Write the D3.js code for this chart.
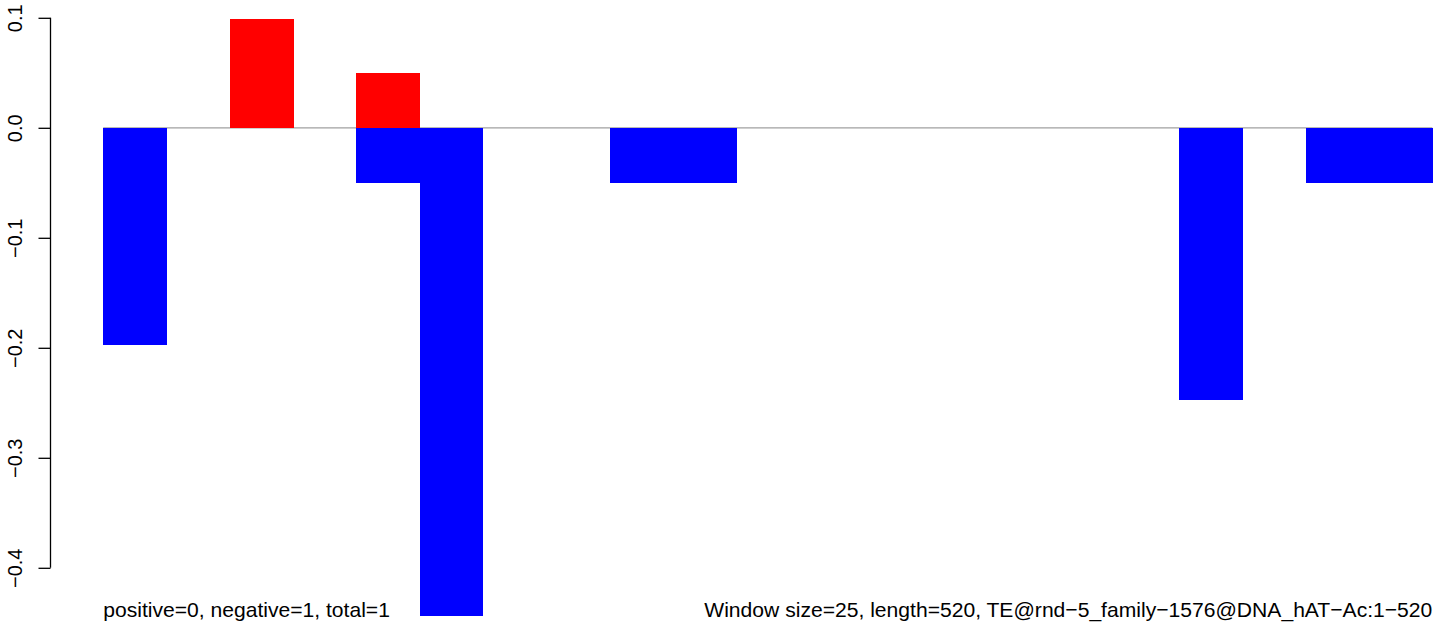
<!DOCTYPE html>
<html>
<head>
<meta charset="utf-8">
<script src="https://cdn.jsdelivr.net/npm/d3@7"></script>
<style>
  html, body { margin: 0; padding: 0; background: #fff; }
  svg { display: block; }
  text { font-family: "Liberation Sans", Arial, Helvetica, sans-serif; fill: #000; }
</style>
</head>
<body>
<svg id="chart" width="1449" height="634"></svg>
<script>
// Window index (21 windows of 25 bp over 520 bp)
const windows = d3.range(21);
// Positive (red) values per window, 0 = none
const positiveValues = [0, 0, 0.099, 0, 0.05, 0, 0, 0, 0, 0, 0, 0, 0, 0, 0, 0, 0, 0, 0, 0, 0];
// Negative (blue) values per window, 0 = none
const negativeValues = [-0.197, 0, 0, 0, -0.05, -0.444, 0, 0, -0.05, -0.05, 0, 0, 0, 0, 0, 0, 0, -0.247, 0, -0.05, -0.05];
const yTicks = [0.1, 0.0, -0.1, -0.2, -0.3, -0.4];
const leftNote = "positive=0, negative=1, total=1";
const rightNote = "Window size=25, length=520, TE@rnd\u22125_family\u22121576@DNA_hAT\u2212Ac:1\u2212520";

const svg = d3.select("#chart");
const plotLeft = 103.2, plotRight = 1432.3;
const x = d3.scaleBand().domain(windows).range([plotLeft, plotRight]).paddingInner(0).paddingOuter(0);
const y = d3.scaleLinear().domain([0, 0.1]).range([127.8, 17.8]);

const axisFont = 20;
const noteFont = 21.1;

// baseline at zero
svg.append("line")
  .attr("x1", plotLeft).attr("x2", plotRight)
  .attr("y1", y(0)).attr("y2", y(0))
  .attr("stroke", "#a0a0a0").attr("stroke-width", 1.3);

// positive bars
svg.append("g").attr("shape-rendering", "crispEdges").selectAll("rect")
  .data(windows.filter(i => positiveValues[i] !== 0))
  .join("rect")
  .attr("x", i => x(i))
  .attr("width", x.bandwidth() + 0.5)
  .attr("y", i => y(positiveValues[i]))
  .attr("height", i => y(0) - y(positiveValues[i]))
  .attr("fill", "#ff0000");

// negative bars
svg.append("g").attr("shape-rendering", "crispEdges").selectAll("rect")
  .data(windows.filter(i => negativeValues[i] !== 0))
  .join("rect")
  .attr("x", i => x(i))
  .attr("width", x.bandwidth() + 0.5)
  .attr("y", y(0))
  .attr("height", i => y(negativeValues[i]) - y(0))
  .attr("fill", "#0000ff");

// y axis
const fmt = v => (v < 0 ? "\u2212" : "") + Math.abs(v).toFixed(1);
const axis = d3.axisLeft(y).tickValues(yTicks).tickFormat(fmt).tickSize(12).tickSizeOuter(0);
const gAxis = svg.append("g").attr("transform", "translate(50.5,0)").call(axis);
gAxis.select(".domain").remove();
gAxis.append("line")
  .attr("x1", 0).attr("x2", 0)
  .attr("y1", y(d3.max(yTicks))).attr("y2", y(d3.min(yTicks)))
  .attr("stroke", "#000").attr("stroke-width", 1.3);
gAxis.selectAll(".tick line").attr("stroke", "#000").attr("stroke-width", 1.3);
gAxis.selectAll(".tick text")
  .attr("x", null).attr("dy", null)
  .attr("transform", "translate(-29,0) rotate(-90)")
  .attr("text-anchor", "middle")
  .attr("font-size", axisFont)
  .attr("font-family", "Liberation Sans, Arial, sans-serif")
  .attr("fill", "#000");

// notes
svg.append("text")
  .attr("x", plotLeft).attr("y", 616.5)
  .attr("font-size", noteFont)
  .attr("text-anchor", "start")
  .text(leftNote);
svg.append("text")
  .attr("x", plotRight).attr("y", 616.5)
  .attr("font-size", noteFont)
  .attr("text-anchor", "end")
  .text(rightNote);
</script>
</body>
</html>
